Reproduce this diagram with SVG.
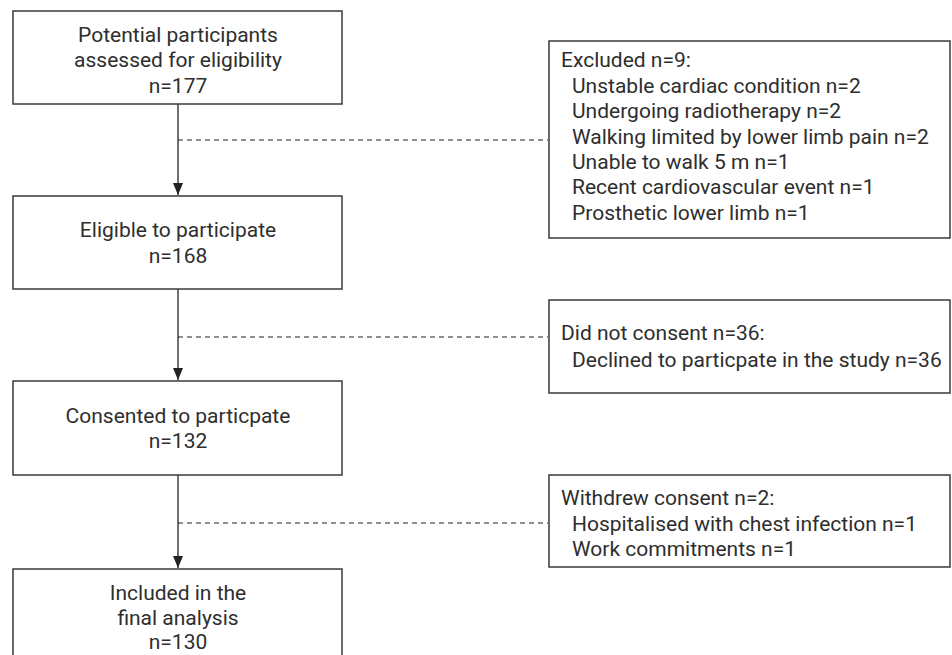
<svg xmlns="http://www.w3.org/2000/svg" width="952" height="655" viewBox="0 0 952 655">
<defs>
<style>
.box{fill:#fff;stroke:#3a3a3a;stroke-width:1.5}
text{font-family:Roboto,"Liberation Sans",sans-serif;font-size:21px;fill:#2e2e2e}
.c{text-anchor:middle}
.flow{stroke:#222;stroke-width:1.3;fill:none}
.dash{stroke:#222;stroke-width:1.2;stroke-dasharray:5 4;fill:none}
</style>
<marker id="ah" markerWidth="12" markerHeight="10" refX="12" refY="5" orient="auto" markerUnits="userSpaceOnUse" viewBox="0 0 12 10">
<path d="M0,0 L12,5 L0,10 Z" fill="#222"/>
</marker>
</defs>
<rect width="952" height="655" fill="#fff"/>
<g id="connectors">
<line class="flow" x1="178" y1="104" x2="178" y2="195" marker-end="url(#ah)"/>
<line class="flow" x1="178" y1="289" x2="178" y2="380" marker-end="url(#ah)"/>
<line class="flow" x1="178" y1="475" x2="178" y2="568" marker-end="url(#ah)"/>
<line class="dash" x1="178" y1="140" x2="548" y2="140"/>
<line class="dash" x1="178" y1="337" x2="548" y2="337"/>
<line class="dash" x1="178" y1="523" x2="548" y2="523"/>
</g>
<g id="assessed">
<rect class="box" x="13" y="11" width="329" height="93"/>
<text class="c" x="178" y="42">Potential participants</text>
<text class="c" x="178" y="67">assessed for eligibility</text>
<text class="c" x="178" y="93">n=177</text>
</g>
<g id="eligible">
<rect class="box" x="13" y="196" width="329" height="93"/>
<text class="c" x="178" y="237">Eligible to participate</text>
<text class="c" x="178" y="263">n=168</text>
</g>
<g id="consented">
<rect class="box" x="13" y="381" width="329" height="94"/>
<text class="c" x="178" y="423">Consented to particpate</text>
<text class="c" x="178" y="448">n=132</text>
</g>
<g id="included">
<rect class="box" x="13" y="569" width="329" height="100"/>
<text class="c" x="178" y="600">Included in the</text>
<text class="c" x="178" y="625">final analysis</text>
<text class="c" x="178" y="649">n=130</text>
</g>
<g id="excluded">
<rect class="box" x="549" y="41" width="401" height="197"/>
<text x="561" y="67">Excluded n=9:</text>
<text x="572" y="93">Unstable cardiac condition n=2</text>
<text x="572" y="118">Undergoing radiotherapy n=2</text>
<text x="572" y="144">Walking limited by lower limb pain n=2</text>
<text x="572" y="169">Unable to walk 5 m n=1</text>
<text x="572" y="194">Recent cardiovascular event n=1</text>
<text x="572" y="220">Prosthetic lower limb n=1</text>
</g>
<g id="notconsent">
<rect class="box" x="549" y="300" width="401" height="93"/>
<text x="561" y="340">Did not consent n=36:</text>
<text x="572" y="367">Declined to particpate in the study n=36</text>
</g>
<g id="withdrew">
<rect class="box" x="549" y="475" width="401" height="92"/>
<text x="561" y="505">Withdrew consent n=2:</text>
<text x="572" y="531">Hospitalised with chest infection n=1</text>
<text x="572" y="556">Work commitments n=1</text>
</g>
</svg>
